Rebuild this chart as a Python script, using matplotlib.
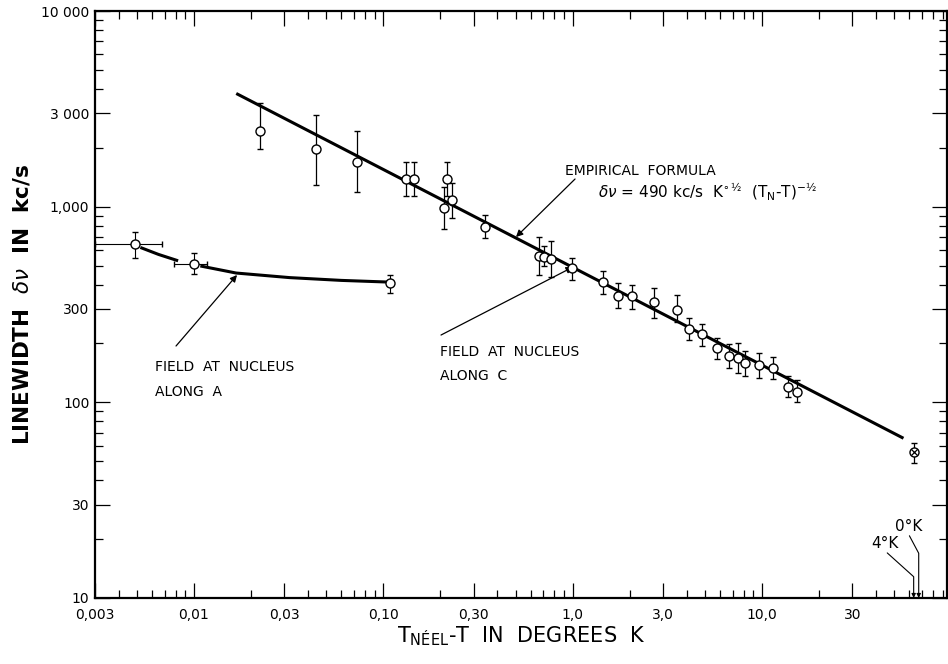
import matplotlib
matplotlib.use("Agg")
import matplotlib.pyplot as plt
from matplotlib.ticker import FixedLocator, NullFormatter
import numpy as np

plt.rcParams['font.family'] = ['DejaVu Sans']
plt.rcParams['mathtext.fontset'] = 'dejavusans'

# field along A: points (T_N - T in K, linewidth kc/s) and error bars
a_x = [0.0049, 0.0100, 0.109]
a_y = [644, 510, 409]
a_ylo = [549, 454, 364]
a_yhi = [741, 582, 450]
a_xlo = [0.0030, 0.0078, 0.109]
a_xhi = [0.0068, 0.0117, 0.109]

# smooth curve drawn through the A data (two pieces, gap at the 0.01 point)
a_curve1_x = [0.0053, 0.0065, 0.0081]
a_curve1_y = [615, 570, 532]
a_curve2_x = [0.011, 0.0167, 0.032, 0.06, 0.105]
a_curve2_y = [496, 458, 434, 420, 412]

# field along C
c_x = [0.0223, 0.0443, 0.0724, 0.132, 0.146, 0.216, 0.209, 0.230, 0.346,
       0.665, 0.704, 0.770, 0.998, 1.45, 1.73, 2.06, 2.70, 3.57, 4.10,
       4.82, 5.79, 6.70, 7.51, 8.18, 9.63, 11.4, 13.7, 15.3]
c_y = [2445, 1971, 1686, 1380, 1380, 1390, 988, 1078, 790,
       562, 551, 540, 486, 414, 351, 350, 325, 297, 236,
       223, 189, 173, 168, 158, 155, 150, 120, 113]
c_ylo = [1965, 1291, 1193, 1134, 1134, 1134, 769, 872, 689,
         448, 498, 439, 422, 357, 303, 300, 271, 258, 208,
         193, 167, 149, 141, 137, 133, 132, 106, 100]
c_yhi = [3400, 2941, 2445, 1698, 1698, 1698, 1265, 1326, 907,
         698, 630, 668, 549, 471, 406, 398, 386, 354, 271,
         251, 214, 198, 200, 184, 178, 171, 136, 130]

# 4.2 K point
low_x = [63.5]
low_y = [56]
low_ylo = [49]
low_yhi = [62]

# empirical formula  dv = 490 kc/s K^1/2 (T_N - T)^-1/2
coef = 490.0
fit_x = np.logspace(np.log10(0.017), np.log10(55), 50)
fit_y = coef * fit_x ** -0.5

t_neel = 67.3

x_major = [0.003, 0.01, 0.03, 0.1, 0.3, 1.0, 3.0, 10.0, 30.0]
x_labels = ["0,003", "0,01", "0,03", "0,10", "0,30", "1,0", "3,0", "10,0", "30"]
y_major = [10, 30, 100, 300, 1000, 3000, 10000]
y_labels = ["10", "30", "100", "300", "1,000", "3 000", "10 000"]

fig = plt.figure(figsize=(9.48, 6.64), dpi=100)
ax = fig.add_axes([0.1002, 0.0994, 0.8988, 0.884])
ax.set_xscale('log')
ax.set_yscale('log')
ax.set_xlim(0.003, 95)
ax.set_ylim(10, 10000)

# fit line and A curve
ax.plot(fit_x, fit_y, color='black', lw=2.2, zorder=2)
ax.plot(a_curve1_x, a_curve1_y, color='black', lw=2.2, zorder=2)
ax.plot(a_curve2_x, a_curve2_y, color='black', lw=2.2, zorder=2)

# data with error bars
c_err = [np.array(c_y) - np.array(c_ylo), np.array(c_yhi) - np.array(c_y)]
ax.errorbar(c_x, c_y, yerr=c_err, fmt='o', ms=6.5, mfc='white', mec='black',
            mew=1.0, ecolor='black', elinewidth=0.9, capsize=2, capthick=0.9, zorder=3)

a_yerr = [np.array(a_y) - np.array(a_ylo), np.array(a_yhi) - np.array(a_y)]
a_xerr = [np.array(a_x) - np.array(a_xlo), np.array(a_xhi) - np.array(a_x)]
ax.errorbar(a_x, a_y, yerr=a_yerr, xerr=a_xerr, fmt='o', ms=6.5, mfc='white',
            mec='black', mew=1.0, ecolor='black', elinewidth=0.8, capsize=2,
            capthick=0.8, zorder=3)

low_err = [np.array(low_y) - np.array(low_ylo), np.array(low_yhi) - np.array(low_y)]
ax.errorbar(low_x, low_y, yerr=low_err, fmt='o', ms=6.5, mfc='white', mec='black',
            mew=1.0, ecolor='black', elinewidth=0.9, capsize=2, capthick=0.9, zorder=3)
ax.plot(low_x, low_y, 'x', ms=4.5, mew=0.9, color='black', zorder=4)

# ticks
ax.xaxis.set_major_locator(FixedLocator(x_major))
ax.set_xticklabels(x_labels)
ax.yaxis.set_major_locator(FixedLocator(y_major))
ax.set_yticklabels(y_labels)
x_minor = [m * 10.0 ** e for e in range(-3, 2) for m in range(2, 10)]
x_minor = [v for v in x_minor if v not in x_major and 0.003 < v < 95]
y_minor = [m * 10.0 ** e for e in range(1, 4) for m in range(2, 10)]
y_minor = [v for v in y_minor if v not in y_major]
ax.xaxis.set_minor_locator(FixedLocator(x_minor))
ax.yaxis.set_minor_locator(FixedLocator(y_minor))
ax.xaxis.set_minor_formatter(NullFormatter())
ax.yaxis.set_minor_formatter(NullFormatter())
ax.tick_params(which='both', direction='in', top=True, right=True,
               labelsize=10, width=0.9)
ax.tick_params(axis='x', pad=7)
ax.tick_params(axis='y', pad=4)
ax.tick_params(which='major', length=11)
ax.tick_params(which='minor', length=6)
for s in ax.spines.values():
    s.set_linewidth(1.6)

ax.set_ylabel(r"LINEWIDTH  $\delta\nu$  IN  kc/s", fontsize=15.5, fontweight='bold',
              labelpad=6)
ax.set_xlabel(r"T$_{\mathrm{NÉEL}}$-T  IN  DEGREES  K", fontsize=15, labelpad=2)

# annotations
ax.text(0.5516, 0.7274, "EMPIRICAL  FORMULA", transform=ax.transAxes,
        fontsize=10, va='center', ha='left')
ax.text(0.5904, 0.6917,
        r"$\delta\nu$ = 490 kc/s  K$^{\circ\,½}$  (T$_\mathrm{N}$-T)$^{-½}$",
        transform=ax.transAxes, fontsize=11, va='center', ha='left')
ax.annotate("", xy=(0.4941, 0.615), xytext=(0.5634, 0.7138),
            xycoords='axes fraction', textcoords='axes fraction',
            arrowprops=dict(arrowstyle='-|>', lw=0.9, color='black',
                            mutation_scale=10, shrinkA=0, shrinkB=0))

ax.text(0.405, 0.4199, "FIELD  AT  NUCLEUS", transform=ax.transAxes,
        fontsize=10, va='center', ha='left')
ax.text(0.405, 0.378, "ALONG  C", transform=ax.transAxes,
        fontsize=10, va='center', ha='left')
ax.annotate("", xy=(0.561, 0.5639), xytext=(0.4061, 0.448),
            xycoords='axes fraction', textcoords='axes fraction',
            arrowprops=dict(arrowstyle='-|>', lw=0.9, color='black',
                            mutation_scale=10, shrinkA=0, shrinkB=0))

ax.text(0.0704, 0.3935, "FIELD  AT  NUCLEUS", transform=ax.transAxes,
        fontsize=10, va='center', ha='left')
ax.text(0.0704, 0.351, "ALONG  A", transform=ax.transAxes,
        fontsize=10, va='center', ha='left')
ax.annotate("", xy=(0.1667, 0.5503), xytext=(0.0951, 0.4293),
            xycoords='axes fraction', textcoords='axes fraction',
            arrowprops=dict(arrowstyle='-|>', lw=0.9, color='black',
                            mutation_scale=10, shrinkA=0, shrinkB=0))

# 4 K and 0 K markers on the temperature axis
ax.text(44.9, 19.1, "4°K", fontsize=11, ha='center', va='center')
ax.text(59.3, 23.1, "0°K", fontsize=11, ha='center', va='center')
ax.annotate("", xy=(t_neel - 4.0, 10), xytext=(45.9, 17.0),
            arrowprops=dict(arrowstyle='-|>', lw=0.8, color='black',
                            mutation_scale=6, shrinkA=0, shrinkB=0,
                            connectionstyle='angle,angleA=-42,angleB=90,rad=0'))
ax.annotate("", xy=(t_neel, 10), xytext=(60.1, 20.8),
            arrowprops=dict(arrowstyle='-|>', lw=0.8, color='black',
                            mutation_scale=6, shrinkA=0, shrinkB=0,
                            connectionstyle='angle,angleA=-62,angleB=90,rad=0'))

fig.savefig("out.png", dpi=100)
